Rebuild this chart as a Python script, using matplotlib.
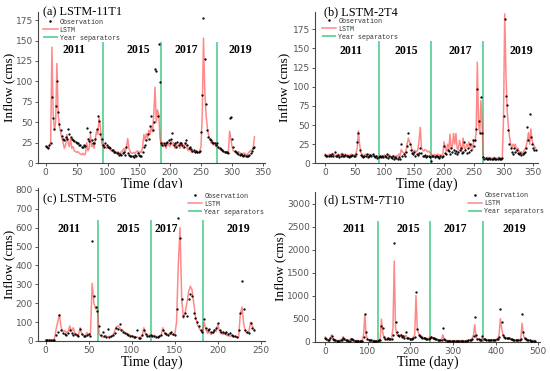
import numpy as np
import matplotlib
matplotlib.use('Agg')
import matplotlib.pyplot as plt
from matplotlib.ticker import MultipleLocator

# ---- data (days, inflow in cms) ----
# (a) LSTM-11T1, every 2nd day from day 0
obs_a = [21, 20, 19, 22, 25, 81, 55, 42, 70, 101,
         62, 48, 40, 33, 30, 28, 32, 30, 42, 35,
         32, 30, 28, 27, 26, 25, 24, 22, 22, 20,
         20, 22, 21, 43, 30, 27, 38, 28, 25, 24,
         30, 42, 58, 52, 35, 30, 22, 20, 24, 22,
         20, 20, 18, 16, 16, 14, 14, 12, 12, 10,
         11, 10, 12, 14, 10, 20, 12, 10, 8, 9,
         8, 7, 10, 8, 12, 10, 8, 9, 14, 20,
         22, 28, 36, 30, 45, 57, 40, 50, 115, 113,
         58, 146, 99, 24, 22, 25, 22, 24, 26, 28,
         25, 30, 37, 22, 24, 20, 26, 22, 25, 24,
         22, 20, 25, 28, 22, 18, 20, 17, 15, 16,
         14, 15, 14, 13, 15, 38, 83, 178, 128, 72,
         40, 32, 30, 28, 26, 25, 24, 22, 25, 20,
         18, 17, 16, 15, 14, 14, 13, 12, 55, 56,
         30, 20, 15, 13, 12, 11, 10, 11, 10, 9,
         10, 9, 8, 9, 10, 12, 15, 18, 20]
lstm_a = [20, 19, 18, 20, 26, 142, 60, 40, 50, 122,
          60, 45, 38, 30, 25, 18, 22, 35, 25, 20,
          30, 18, 20, 15, 14, 13, 14, 12, 11, 10,
          12, 10, 11, 25, 15, 18, 35, 20, 22, 18,
          30, 40, 35, 55, 45, 25, 20, 22, 20, 18,
          20, 18, 16, 15, 14, 15, 13, 12, 14, 12,
          12, 14, 15, 18, 14, 20, 30, 18, 14, 12,
          12, 13, 12, 14, 15, 12, 14, 13, 20, 35,
          28, 36, 30, 40, 35, 45, 38, 60, 93, 50,
          65, 60, 30, 22, 25, 20, 23, 18, 25, 22,
          20, 28, 22, 25, 18, 24, 20, 22, 18, 25,
          20, 18, 22, 25, 17, 15, 18, 14, 13, 14,
          13, 14, 12, 13, 15, 20, 60, 153, 90, 60,
          45, 35, 30, 25, 24, 22, 25, 20, 22, 18,
          17, 16, 15, 14, 13, 14, 13, 12, 39, 30,
          20, 15, 14, 13, 12, 14, 13, 12, 11, 12,
          12, 11, 10, 12, 14, 15, 16, 18, 32]

# (b) LSTM-2T4, every 2nd day from day 0
obs_b = [11, 10, 10, 9, 11, 9, 12, 10, 15, 10,
         9, 11, 8, 10, 12, 9, 10, 11, 9, 10,
         8, 9, 10, 11, 9, 9, 12, 28, 40, 18,
         11, 9, 8, 10, 9, 12, 8, 10, 11, 9,
         12, 9, 8, 10, 7, 8, 9, 8, 10, 8,
         9, 8, 12, 7, 9, 8, 7, 9, 6, 8,
         7, 5, 8, 6, 25, 9, 12, 10, 15, 22,
         40, 25, 18, 14, 12, 15, 10, 12, 11, 13,
         20, 13, 10, 9, 11, 8, 10, 9, 8, 3,
         9, 10, 8, 9, 10, 8, 7, 9, 8, 10,
         22, 14, 12, 18, 16, 12, 20, 15, 18, 14,
         16, 12, 15, 18, 20, 14, 15, 28, 18, 14,
         20, 15, 25, 18, 30, 22, 30, 45, 97, 55,
         40, 87, 40, 8, 6, 7, 5, 6, 7, 5,
         6, 5, 7, 6, 5, 6, 7, 6, 5, 7,
         62, 188, 88, 76, 43, 25, 20, 15, 12, 20,
         15, 18, 14, 12, 13, 11, 12, 14, 15, 20,
         47, 30, 64, 35, 25, 20, 18, 17]
lstm_b = [12, 11, 10, 11, 12, 10, 13, 12, 11, 10,
          11, 12, 10, 11, 13, 10, 11, 12, 10, 11,
          10, 11, 12, 11, 10, 11, 13, 20, 42, 25,
          14, 12, 11, 10, 12, 11, 10, 12, 11, 10,
          11, 10, 9, 10, 9, 8, 10, 9, 8, 10,
          11, 10, 9, 10, 11, 9, 8, 10, 9, 8,
          10, 9, 12, 10, 18, 15, 14, 12, 16, 25,
          33, 28, 25, 18, 15, 17, 16, 15, 18, 30,
          47, 20, 17, 16, 18, 17, 15, 16, 14, 12,
          11, 10, 12, 10, 11, 12, 10, 11, 10, 12,
          28, 20, 15, 25, 18, 38, 20, 22, 39, 25,
          39, 20, 18, 30, 22, 15, 33, 20, 18, 25,
          22, 28, 20, 25, 18, 30, 28, 40, 132, 50,
          40, 82, 50, 8, 7, 6, 7, 8, 6, 7,
          7, 6, 8, 7, 6, 7, 8, 7, 6, 8,
          60, 195, 120, 70, 50, 35, 25, 20, 25, 22,
          25, 15, 20, 16, 14, 15, 13, 16, 18, 22,
          30, 40, 25, 45, 30, 25, 22, 20]

# (c) LSTM-5T6, every 2nd day from day 0
obs_c = [5, 6, 5, 4, 5, 6, 30, 50, 137, 60,
         40, 35, 30, 40, 60, 40, 30, 35, 30, 25,
         65, 35, 28, 25, 30, 35, 25, 527, 240, 180,
         160, 80, 30, 50, 25, 20, 65, 20, 25, 30,
         40, 70, 65, 90, 60, 50, 40, 35, 30, 28,
         25, 22, 20, 60, 18, 15, 30, 60, 35, 25,
         28, 30, 25, 28, 22, 20, 25, 30, 60, 40,
         35, 30, 40, 50, 35, 30, 170, 650, 545, 220,
         130, 150, 130, 220, 250, 240, 150, 120, 100, 80,
         60, 50, 115, 70, 60, 65, 50, 45, 60, 70,
         95, 60, 50, 45, 40, 45, 35, 40, 30, 28,
         25, 22, 60, 150, 320, 170, 60, 45, 40, 95,
         70, 60]
lstm_c = [6, 5, 6, 5, 5, 5, 60, 100, 140, 70,
          50, 55, 45, 50, 80, 50, 70, 40, 35, 30,
          70, 35, 30, 25, 45, 30, 40, 305, 200, 170,
          180, 40, 25, 20, 22, 30, 20, 25, 20, 30,
          50, 75, 80, 70, 60, 55, 45, 40, 35, 30,
          28, 25, 22, 20, 18, 20, 25, 70, 35, 28,
          30, 32, 28, 30, 25, 22, 25, 30, 70, 40,
          35, 30, 40, 35, 30, 35, 100, 400, 600, 220,
          120, 150, 200, 260, 290, 270, 200, 130, 90, 70,
          55, 45, 100, 60, 40, 50, 35, 40, 60, 50,
          90, 50, 40, 35, 40, 30, 28, 25, 28, 25,
          22, 20, 18, 140, 180, 90, 50, 40, 50, 100,
          80, 60]

# (d) LSTM-7T10, every 3rd day from day 0
obs_d = [80, 60, 40, 30, 70, 120, 60, 40, 30, 25,
         20, 25, 30, 40, 90, 50, 35, 30, 25, 20,
         60, 50, 30, 25, 20, 25, 20, 18, 20, 25,
         100, 600, 200, 60, 40, 35, 30, 25, 20, 22,
         25, 20, 30, 40, 330, 300, 100, 60, 50, 80,
         60, 50, 55, 150, 2140, 420, 220, 150, 120, 140,
         100, 120, 90, 200, 80, 70, 60, 60, 50, 80,
         100, 1080, 280, 150, 120, 100, 90, 80, 70, 60,
         50, 60, 80, 100, 90, 70, 60, 50, 40, 35,
         30, 40, 290, 60, 30, 25, 20, 25, 20, 18,
         20, 18, 22, 20, 18, 20, 22, 25, 20, 18,
         20, 25, 30, 35, 40, 60, 120, 535, 150, 60,
         50, 45, 40, 130, 60, 50, 45, 40, 35, 40,
         35, 40, 45, 40, 50, 60, 100, 700, 420, 150,
         100, 90, 80, 70, 80, 60, 50, 40, 35, 30,
         40, 35, 30, 60, 600, 200, 80, 50, 40, 30,
         30, 25, 22, 20, 25]
lstm_d = [100, 70, 40, 30, 80, 150, 80, 50, 35, 30,
          25, 28, 35, 50, 110, 60, 40, 30, 28, 25,
          70, 50, 35, 30, 25, 28, 22, 20, 22, 30,
          150, 590, 150, 60, 45, 40, 35, 30, 25, 22,
          25, 22, 30, 50, 490, 200, 80, 60, 50, 80,
          70, 60, 80, 300, 1750, 300, 150, 120, 110, 160,
          120, 130, 100, 140, 90, 80, 70, 60, 55, 100,
          150, 1000, 300, 180, 150, 120, 100, 90, 80, 70,
          60, 80, 100, 110, 90, 80, 70, 60, 50, 40,
          35, 50, 150, 60, 35, 30, 25, 28, 22, 20,
          22, 20, 25, 22, 20, 22, 25, 28, 22, 20,
          22, 25, 30, 35, 45, 70, 150, 370, 100, 60,
          55, 50, 45, 80, 60, 50, 45, 40, 38, 40,
          38, 42, 45, 42, 50, 60, 150, 500, 300, 150,
          100, 90, 80, 70, 80, 60, 50, 40, 35, 30,
          40, 35, 30, 80, 400, 150, 60, 40, 35, 30,
          28, 25, 22, 20, 22]

years = ['2011', '2015', '2017', '2019']

panels = [
    dict(title='(a) LSTM-11T1', obs=obs_a, lstm=lstm_a, step=2,
         seps=[92, 185, 276], sep_top=148,
         year_x=[46, 149, 227, 313], year_y=138,
         rect=[0.0691, 0.5606, 0.4127, 0.4070],
         xlim=(-12.4, 353), ylim=(0, 185), xstep=50, ystep=25,
         title_xy=(0.023, 1.0), leg_xy=(0.022, 0.956), ylab_x=-0.098),
    dict(title='(b) LSTM-2T4', obs=obs_b, lstm=lstm_b, step=2,
         seps=[90, 178, 266], sep_top=160,
         year_x=[44, 137, 227, 330], year_y=147,
         rect=[0.5727, 0.5598, 0.4055, 0.4078],
         xlim=(-17, 358), ylim=(0, 197.5), xstep=50, ystep=25,
         title_xy=(0.04, 1.0), leg_xy=(0.03, 0.962), ylab_x=-0.112),
    dict(title='(c) LSTM-5T6', obs=obs_c, lstm=lstm_c, step=2,
         seps=[61, 122, 183], sep_top=640,
         year_x=[27, 96, 140, 224], year_y=592,
         rect=[0.0691, 0.0809, 0.4127, 0.4124],
         xlim=(-8.9, 254.7), ylim=(0, 810), xstep=50, ystep=100,
         title_xy=(0.023, 0.928), leg_xy=(0.66, 0.969), ylab_x=-0.098),
    dict(title='(d) LSTM-7T10', obs=obs_d, lstm=lstm_d, step=3,
         seps=[123, 247, 371], sep_top=2620,
         year_x=[68, 195, 305, 444], year_y=2437,
         rect=[0.5727, 0.0790, 0.4091, 0.4035],
         xlim=(-24, 504), ylim=(0, 3250), xstep=100, ystep=500,
         title_xy=(0.041, 0.947), leg_xy=(0.679, 1.0), ylab_x=-0.126),
]

serif = 'Liberation Serif'
tickfont = ['Liberation Sans Narrow', 'DejaVu Sans']

fig = plt.figure(figsize=(5.5, 3.71), dpi=100)

for p in panels:
    ax = fig.add_axes(p['rect'])
    days = np.arange(len(p['obs'])) * p['step']
    ax.plot(days, p['lstm'], color='#ff3b3b', lw=1.1, alpha=0.6, label='LSTM', zorder=2)
    ax.plot(days, p['obs'], 'k.', ms=1.3, label='Observation', zorder=3)
    for i, s in enumerate(p['seps']):
        ax.vlines(s, 0, p['sep_top'], color='#52cf8e', lw=1.2,
                  label='Year separators' if i == 0 else None, zorder=1)
    for yx, yr in zip(p['year_x'], years):
        ax.text(yx, p['year_y'], yr, ha='center', va='center', family=serif,
                fontweight='bold', fontsize=8.5)
    ax.text(p['title_xy'][0], p['title_xy'][1], p['title'], transform=ax.transAxes,
            ha='left', va='center', family=serif, fontsize=8.8)

    h, l = ax.get_legend_handles_labels()
    order = [l.index('Observation'), l.index('LSTM'), l.index('Year separators')]
    leg = ax.legend([h[i] for i in order], [l[i] for i in order],
                    loc='upper left', bbox_to_anchor=p['leg_xy'], frameon=False,
                    borderaxespad=0, borderpad=0, labelspacing=0.15,
                    handlelength=2.2, handletextpad=0.3, markerscale=1.2,
                    prop={'family': 'Liberation Mono', 'size': 4.8})
    for t in leg.get_texts():
        t.set_color('#333333')

    ax.set_xlim(p['xlim'])
    ax.set_ylim(p['ylim'])
    ax.xaxis.set_major_locator(MultipleLocator(p['xstep']))
    ax.yaxis.set_major_locator(MultipleLocator(p['ystep']))
    ax.set_xlabel('Time (day)', family=serif, fontsize=10, labelpad=0)
    ax.set_ylabel('Inflow (cms)', family=serif, fontsize=9.5)
    ax.yaxis.set_label_coords(p['ylab_x'], 0.5)
    for side in ['top', 'right']:
        ax.spines[side].set_visible(False)
    for side in ['left', 'bottom']:
        ax.spines[side].set_color('#444444')
        ax.spines[side].set_linewidth(0.8)
    ax.tick_params(colors='#555555', labelsize=6.5, length=2.5, width=0.7, pad=1.2)
    for lab in ax.get_xticklabels() + ax.get_yticklabels():
        lab.set_family(tickfont)

fig.savefig('out.png', dpi=100)
